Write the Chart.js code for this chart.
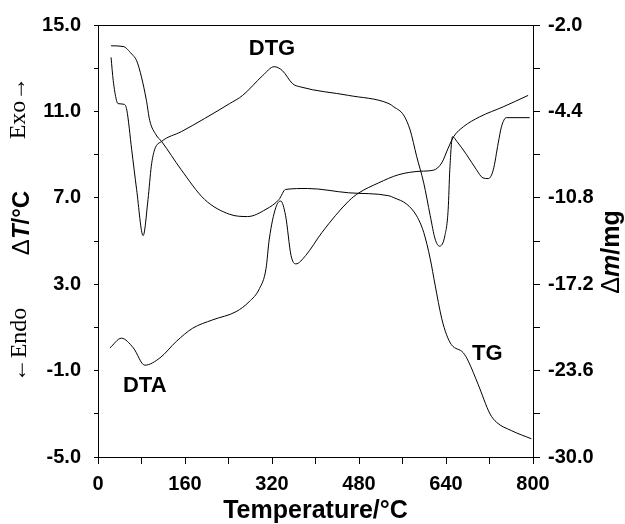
<!DOCTYPE html>
<html>
<head>
<meta charset="utf-8">
<script src="https://cdn.jsdelivr.net/npm/chart.js@4/dist/chart.umd.min.js"></script>
<style>
  html, body { margin: 0; padding: 0; background: #fff; }
  #wrap { width: 625px; height: 524px; }
</style>
</head>
<body>
<div id="wrap"><canvas id="thermoChart" width="625" height="524"></canvas></div>
<script>
// DTA curve (left axis, ΔT/°C)
const dtaTemp = [22, 43, 65, 86, 114, 144, 174, 211, 254, 278, 297, 309, 315, 327, 336, 345, 355, 364, 382, 412,
  461, 480, 516, 553, 593, 617, 632, 644, 654, 672, 702, 745, 791];
const dtaValues = [0.05, 0.50, 0.05, -0.75, -0.41, 0.35, 0.96, 1.35, 1.73, 2.19, 2.80, 3.72, 5.09, 6.55, 6.85, 6.17, 4.33, 3.94, 4.33, 5.40,
  6.85, 7.23, 7.69, 8.07, 8.23, 8.28, 8.61, 9.30, 9.83, 10.29, 10.75, 11.21, 11.74];

// DTG curve (left axis scale)
const dtgTemp = [24, 28, 34, 37, 48, 53, 62, 71, 83, 92, 98, 104, 117, 153, 196, 242, 266, 303, 324, 339,
  358, 373, 461, 535, 544, 562, 574, 586, 599, 611, 620, 628, 638, 644, 647, 652, 660, 678, 696, 708,
  718, 727, 736, 742, 751, 794];
const dtgValues = [13.50, 12.43, 11.51, 11.36, 11.33, 11.06, 9.22, 7.39, 5.25, 6.93, 8.46, 9.22, 9.61, 10.06, 10.67, 11.36, 11.74, 12.66, 13.07, 12.89,
  12.28, 12.13, 11.74, 11.36, 11.21, 10.83, 10.14, 8.92, 7.69, 6.17, 5.09, 4.76, 5.25, 6.47, 8.30, 9.83, 9.61, 8.99, 8.30, 7.92,
  7.89, 8.30, 9.53, 10.29, 10.71, 10.71];

// TG curve (right axis, Δm/mg)
const tgTemp = [24, 46, 62, 71, 80, 89, 95, 107, 117, 153, 196, 242, 275, 309, 333, 345, 385, 461, 535, 544,
  568, 586, 599, 611, 620, 632, 641, 650, 672, 681, 699, 721, 733, 760, 797];
const tgValues = [0.46, 0.41, -0.15, -0.64, -1.86, -3.58, -5.05, -6.15, -6.63, -8.72, -10.92, -12.02, -12.19, -11.65, -10.92, -10.18, -10.11, -10.43, -10.65, -10.79,
  -11.28, -12.14, -13.36, -15.32, -17.27, -19.72, -20.94, -21.68, -22.29, -22.90, -24.61, -26.81, -27.43, -28.04, -28.65];

// ticks
const tempTicks = [0, 80, 160, 240, 320, 400, 480, 560, 640, 720, 800];
const tempLabels = ["0", "", "160", "", "320", "", "480", "", "640", "", "800"];
const leftTicks = [-5, -3, -1, 1, 3, 5, 7, 9, 11, 13, 15];
const leftLabels = ["-5.0", "", "-1.0", "", "3.0", "", "7.0", "", "11.0", "", "15.0"];
const rightTicks = [-30, -26.8, -23.6, -20.4, -17.2, -14, -10.8, -7.6, -4.4, -1.2, 2];
const rightLabels = ["-30.0", "", "-23.6", "", "-17.2", "", "-10.8", "", "-4.4", "", "-2.0"];

const toPoints = (xs, ys) => xs.map((x, i) => ({ x: x, y: ys[i] }));

const sans = "'Liberation Sans', Arial, sans-serif";
const serif = "'Liberation Serif', 'Times New Roman', serif";
const tickFont = { family: sans, size: 20, weight: "bold" };

// rotated titles and curve names
const textPlugin = {
  id: "thermoText",
  afterDraw(chart) {
    const ctx = chart.ctx;
    const sx = chart.scales.x;
    const sy = chart.scales.y;

    const drawRotated = (cx, cy, parts) => {
      ctx.save();
      ctx.translate(cx, cy);
      ctx.rotate(-Math.PI / 2);
      ctx.fillStyle = "#000";
      ctx.textBaseline = "middle";
      ctx.textAlign = "left";
      let total = 0;
      parts.forEach((p) => {
        ctx.font = p.font;
        total += ctx.measureText(p.text).width;
      });
      let pos = -total / 2;
      parts.forEach((p) => {
        ctx.font = p.font;
        ctx.fillText(p.text, pos, 0);
        pos += ctx.measureText(p.text).width;
      });
      ctx.restore();
    };

    drawRotated(19, 108, [{ text: "Exo\u2192", font: "24px " + serif }]);
    drawRotated(20, 345, [{ text: "\u2190Endo", font: "24px " + serif }]);
    drawRotated(22, 223, [
      { text: "\u0394", font: "24px " + sans },
      { text: "T", font: "italic bold 24px " + sans },
      { text: "/\u00b0C", font: "bold 24px " + sans },
    ]);
    drawRotated(612, 252, [
      { text: "\u0394", font: "25px " + sans },
      { text: "m", font: "italic bold 25px " + sans },
      { text: "/mg", font: "bold 25px " + sans },
    ]);

    // curve names
    ctx.save();
    ctx.fillStyle = "#000";
    ctx.font = "bold 22px " + sans;
    ctx.textAlign = "center";
    ctx.textBaseline = "middle";
    ctx.fillText("DTG", sx.getPixelForValue(320), sy.getPixelForValue(13.9));
    ctx.fillText("DTA", sx.getPixelForValue(86), sy.getPixelForValue(-1.7));
    ctx.fillText("TG", sx.getPixelForValue(716), sy.getPixelForValue(-0.25));
    ctx.restore();
  },
};

const lineStyle = {
  borderColor: "#000",
  borderWidth: 1,
  pointRadius: 0,
  fill: false,
  cubicInterpolationMode: "monotone",
};

const ctx = document.getElementById("thermoChart").getContext("2d");
new Chart(ctx, {
  type: "line",
  data: {
    datasets: [
      { label: "DTA", data: toPoints(dtaTemp, dtaValues), yAxisID: "y", ...lineStyle },
      { label: "DTG", data: toPoints(dtgTemp, dtgValues), yAxisID: "y", ...lineStyle },
      { label: "TG", data: toPoints(tgTemp, tgValues), yAxisID: "y1", ...lineStyle },
    ],
  },
  options: {
    responsive: false,
    animation: false,
    layout: { padding: 0 },
    plugins: {
      legend: { display: false },
      tooltip: { enabled: false },
    },
    scales: {
      x: {
        type: "linear",
        position: "bottom",
        min: 0,
        max: 800,
        afterBuildTicks: (scale) => {
          scale.ticks = tempTicks.map((v) => ({ value: v }));
        },
        afterFit: (scale) => {
          scale.height = 67;
        },
        ticks: {
          autoSkip: false,
          maxRotation: 0,
          padding: 8,
          color: "#000",
          font: tickFont,
          callback: (v, i) => tempLabels[i],
        },
        grid: { drawOnChartArea: false, drawTicks: true, tickLength: 7, color: "#000" },
        border: { display: true, color: "#000", width: 1 },
        title: {
          display: true,
          text: "Temperature/°C",
          color: "#000",
          font: { family: sans, size: 25, weight: "bold", lineHeight: 1.0 },
          padding: { top: 0, bottom: 0 },
        },
      },
      xTop: {
        type: "linear",
        position: "top",
        min: 0,
        max: 800,
        afterFit: (scale) => {
          scale.height = 21;
        },
        ticks: { display: false },
        grid: { display: false },
        border: { display: true, color: "#000", width: 1 },
      },
      y: {
        type: "linear",
        position: "left",
        min: -5,
        max: 15,
        afterBuildTicks: (scale) => {
          scale.ticks = leftTicks.map((v) => ({ value: v }));
        },
        afterFit: (scale) => {
          scale.width = 98;
        },
        ticks: {
          autoSkip: false,
          padding: 13,
          color: "#000",
          font: tickFont,
          callback: (v, i) => leftLabels[i],
        },
        grid: { drawOnChartArea: false, drawTicks: true, tickLength: 4, color: "#000" },
        border: { display: true, color: "#000", width: 1 },
      },
      y1: {
        type: "linear",
        position: "right",
        min: -30,
        max: 2,
        afterBuildTicks: (scale) => {
          scale.ticks = rightTicks.map((v) => ({ value: v }));
        },
        afterFit: (scale) => {
          scale.width = 92;
        },
        ticks: {
          autoSkip: false,
          padding: 8,
          color: "#000",
          font: tickFont,
          callback: (v, i) => rightLabels[i],
        },
        grid: { drawOnChartArea: false, drawTicks: true, tickLength: 7, color: "#000" },
        border: { display: true, color: "#000", width: 1 },
      },
    },
  },
  plugins: [textPlugin],
});
</script>
</body>
</html>
